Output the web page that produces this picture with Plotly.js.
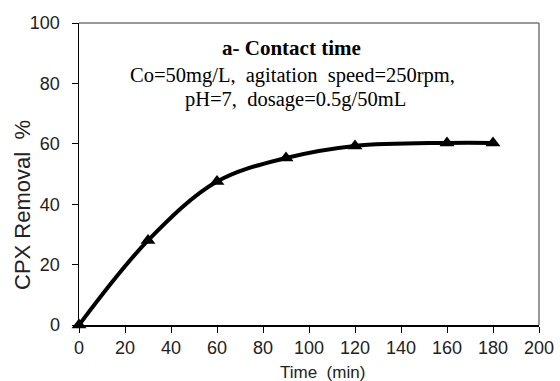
<!DOCTYPE html>
<html><head><meta charset="utf-8">
<script src="https://cdn.plot.ly/plotly-3.0.1.min.js"></script>
<style>html,body{margin:0;padding:0;background:#fff}#c{width:560px;height:381px}</style>
</head><body><div id="c"></div>
<script>
const timeMin = [0, 30, 60, 90, 120, 160, 180];
const removal = [0, 28, 47.5, 55.3, 59.3, 60.3, 60.3];
const xTicks = [0, 20, 40, 60, 80, 100, 120, 140, 160, 180, 200];
const yTicks = [0, 20, 40, 60, 80, 100];
const titleLine = 'a- Contact time';
const infoLines = ['Co=50mg/L,  agitation  speed=250rpm,', 'pH=7,  dosage=0.5g/50mL'];
const xTitle = 'Time  (min)';
const yTitle = 'CPX Removal  %';

const sans = 'Liberation Sans, Arial';
const serif = 'Liberation Serif, Times New Roman';
const H = 302, W = 460, L = 79, B = 325;
const trace = {
  x: timeMin, y: removal, type: 'scatter', mode: 'lines+markers',
  line: {color: '#000', width: 4, shape: 'spline', smoothing: 1},
  marker: {symbol: 'triangle-up', size: 13, color: '#000'},
  cliponaxis: false, showlegend: false, hoverinfo: 'none'
};
function note(text, x, yPix, size, family, extra) {
  return Object.assign({text: text, xref: 'paper', yref: 'paper', x: (x - L) / W, y: (B - yPix) / H,
    xanchor: 'center', yanchor: 'middle', showarrow: false,
    font: {family: family, size: size, color: '#000'}}, extra || {});
}
const layout = {
  width: 560, height: 381,
  margin: {l: 79, r: 21, t: 23, b: 56},
  paper_bgcolor: '#fff', plot_bgcolor: '#fff',
  xaxis: {range: [0, 200], tickvals: xTicks, ticks: 'outside', ticklen: 6, tickcolor: '#000',
    showline: true, linecolor: '#000', linewidth: 1.5, showgrid: false, zeroline: false,
    tickfont: {family: sans, size: 18, color: '#222'}},
  yaxis: {range: [0, 100], tickvals: yTicks, ticks: 'outside', ticklen: 6, tickcolor: '#000',
    showline: true, linecolor: '#000', linewidth: 1.5, showgrid: false, zeroline: false,
    ticklabelstandoff: 8,
    tickfont: {family: sans, size: 18, color: '#222'}},
  shapes: [
    {type: 'line', xref: 'paper', yref: 'paper', x0: 0, x1: 1, y0: 1, y1: 1, line: {color: '#777', width: 1.5}},
    {type: 'line', xref: 'paper', yref: 'paper', x0: 1, x1: 1, y0: 0, y1: 1, line: {color: '#777', width: 1.5}}
  ],
  annotations: [
    note('<b>' + titleLine + '</b>', 291, 48, 21, serif),
    note(infoLines[0], 292.5, 75, 20.5, serif),
    note(infoLines[1], 295, 100, 20.5, serif),
    note(xTitle, 322, 372, 17, sans, {font: {family: sans, size: 17, color: '#222'}}),
    note(yTitle, 22, 205, 22, sans, {textangle: -90, font: {family: sans, size: 22, color: '#222'}})
  ]
};
Plotly.newPlot('c', [trace], layout, {staticPlot: true, displayModeBar: false});
</script></body></html>
